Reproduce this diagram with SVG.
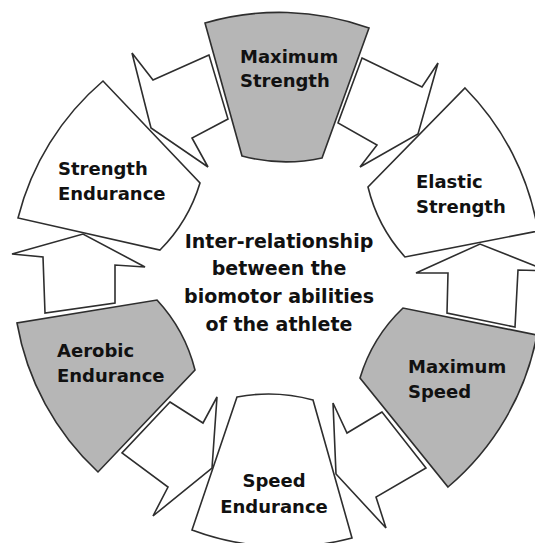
<svg xmlns="http://www.w3.org/2000/svg" width="535" height="543" viewBox="0 0 535 543">
<style>
.seg{stroke:#2e2e2e;stroke-width:1.6;stroke-linejoin:miter}
.gray{fill:#b6b6b6}
.white{fill:#ffffff}
.arr{fill:#ffffff;stroke:#2e2e2e;stroke-width:1.6;stroke-linejoin:miter}
.lbl{font-family:"DejaVu Sans",Verdana,sans-serif;font-weight:bold;font-size:18px;fill:#111111}
.ctr{font-family:"DejaVu Sans",Verdana,sans-serif;font-weight:bold;font-size:19px;fill:#111111;text-anchor:middle}
</style>
<rect width="535" height="543" fill="#ffffff"/>
<g id="connectors">
<polygon class="arr" points="209,55 153,80 132,53 151,128 208,167 192,138 228,119"/>
<polygon class="arr" points="362,58 422,87 438,63 418,134 360,167 377,145 338,123"/>
<polygon class="arr" points="45,313 43,257 12,254 83,234 145,267 115,265 115,303"/>
<polygon class="arr" points="447,313 448,273 416,273 480,244 548,271 518,270 515,327"/>
<polygon class="arr" points="170,402 203,423 217,397 212,468 153,516 168,487 122,453"/>
<polygon class="arr" points="382,412 347,433 333,403 336,474 386,528 376,497 426,468"/>
</g>
<g id="node-max-strength">
<path class="seg gray" d="M205,23 A265,265 0 0 1 369,28 L322,158 A170,170 0 0 1 242,156 Z"/>
<text class="lbl" x="240" y="63">Maximum</text>
<text class="lbl" x="240" y="87">Strength</text>
</g>
<g id="node-elastic-strength">
<path class="seg white" d="M465,88 A265,265 0 0 1 538,231 L405,257 A160,160 0 0 1 368,187 Z"/>
<text class="lbl" x="416" y="188">Elastic</text>
<text class="lbl" x="416" y="213">Strength</text>
</g>
<g id="node-max-speed">
<path class="seg gray" d="M537,335 A265,265 0 0 1 448,487 L360,378 A160,160 0 0 1 403,308 Z"/>
<text class="lbl" x="408" y="373">Maximum</text>
<text class="lbl" x="408" y="398">Speed</text>
</g>
<g id="node-speed-endurance">
<path class="seg white" d="M352,538 A265,265 0 0 1 192,530 L237,397 A170,170 0 0 1 313,400 Z"/>
<text class="lbl" x="274" y="487" text-anchor="middle">Speed</text>
<text class="lbl" x="274" y="513" text-anchor="middle">Endurance</text>
</g>
<g id="node-aerobic-endurance">
<path class="seg gray" d="M98,472 A265,265 0 0 1 17,323 L157,300 A160,160 0 0 1 195,370 Z"/>
<text class="lbl" x="57" y="357">Aerobic</text>
<text class="lbl" x="57" y="382">Endurance</text>
</g>
<g id="node-strength-endurance">
<path class="seg white" d="M18,218 A265,265 0 0 1 103,81 L200,183 A160,160 0 0 1 160,250 Z"/>
<text class="lbl" x="58" y="175">Strength</text>
<text class="lbl" x="58" y="200">Endurance</text>
</g>
<g id="center-title">
<text class="ctr" x="279" y="248">Inter-relationship</text>
<text class="ctr" x="279" y="275">between the</text>
<text class="ctr" x="279" y="303">biomotor abilities</text>
<text class="ctr" x="279" y="331">of the athlete</text>
</g>
</svg>
